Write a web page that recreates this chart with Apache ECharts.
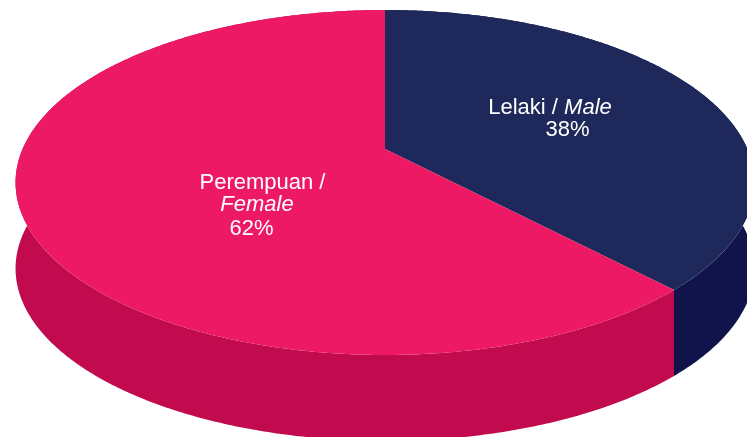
<!DOCTYPE html>
<html>
<head>
<meta charset="utf-8">
<title>Lelaki / Perempuan</title>
<script src="https://cdn.jsdelivr.net/npm/echarts@6/dist/echarts.min.js"></script>
<style>
  html, body { margin: 0; padding: 0; background: #fff; }
  #chart { width: 747px; height: 437px; }
</style>
</head>
<body>
<div id="chart"></div>
<script>
// data
const categories = ['Lelaki', 'Perempuan']
const categoriesEn = ['Male', 'Female']
const values = [38, 62]

// colours: top face / outer wall
const topColors = ['#1E285A', '#EE1964']
const sideColors = ['#10144A', '#C20A4F']

// 3d view (perspective like the excel chart)
const view = {
  cx: 385, cy: 149,       // pie centre on screen
  tilt: 30 * Math.PI / 180,
  dist: 4.459,
  fx: 1616, fy: 1480,
  depth: 86               // wall height in px
}

// label placement, offsets from pie centre (px)
const labelLayout = [
  { wrap: false, lines: [[165, -41.5], [182.5, -19]] },
  { wrap: true, lines: [[-122.5, 33.5], [-128, 56], [-133.5, 79.5]] }
]

const total = values.reduce((a, b) => a + b, 0)
const angles = []
let acc = 0
values.forEach(v => {
  angles.push([acc / total * Math.PI * 2, (acc + v) / total * Math.PI * 2])
  acc += v
})

// point on the rim, theta clockwise from 12 o'clock
function project (theta, drop) {
  const X = Math.sin(theta), Z = -Math.cos(theta)
  const c = Math.cos(view.tilt), s = Math.sin(view.tilt)
  const k = 1 / (view.dist - Z * c)
  return [view.cx + X * view.fx * k, view.cy + Z * s * view.fy * k + (drop || 0)]
}

function arc (a, b, drop) {
  const pts = []
  const n = Math.max(8, Math.ceil(Math.abs(b - a) / 0.01))
  for (let j = 0; j <= n; j++) {
    pts.push(project(a + (b - a) * j / n, drop))
  }
  return pts
}

// outer wall, the back part ends up under the top faces
function renderWall (params, api) {
  const i = params.dataIndex
  const a = angles[i][0]
  const b = angles[i][1]
  const pts = arc(a, b, 0).concat(arc(a, b, view.depth).reverse())
  return {
    type: 'polygon',
    shape: { points: pts },
    style: { fill: sideColors[i] }
  }
}

function renderTop (params, api) {
  const i = params.dataIndex
  const pts = [[view.cx, view.cy]].concat(arc(angles[i][0], angles[i][1], 0))
  const pct = Math.round(api.value(1) / total * 100) + '%'
  const lay = labelLayout[i]
  const texts = lay.wrap
    ? [categories[i] + ' /', '{i|' + categoriesEn[i] + '}', pct]
    : [categories[i] + ' / {i|' + categoriesEn[i] + '}', pct]
  const children = [{
    type: 'polygon',
    shape: { points: pts },
    style: { fill: topColors[i] }
  }]
  texts.forEach((t, j) => {
    children.push({
      type: 'text',
      x: view.cx + lay.lines[j][0],
      y: view.cy + lay.lines[j][1],
      style: {
        text: t,
        fill: '#fff',
        font: '22px "Liberation Sans", Arial, sans-serif',
        align: 'center',
        verticalAlign: 'middle',
        rich: {
          i: { fontStyle: 'italic', fontSize: 22, fontFamily: '"Liberation Sans", Arial, sans-serif', fill: '#fff' }
        }
      }
    })
  })
  return { type: 'group', children: children }
}

const seriesData = values.map((v, i) => ({ name: categories[i], value: [i, v] }))

let myChart = echarts.init(document.getElementById('chart'))
let option = {
  animation: false,
  series: [
    {
      type: 'custom',
      coordinateSystem: 'none',
      z: 1,
      renderItem: renderWall,
      data: seriesData
    },
    {
      type: 'custom',
      coordinateSystem: 'none',
      z: 2,
      renderItem: renderTop,
      data: seriesData
    }
  ]
}
myChart.setOption(option)
window.addEventListener('resize', () => { myChart.resize() })
</script>
</body>
</html>
